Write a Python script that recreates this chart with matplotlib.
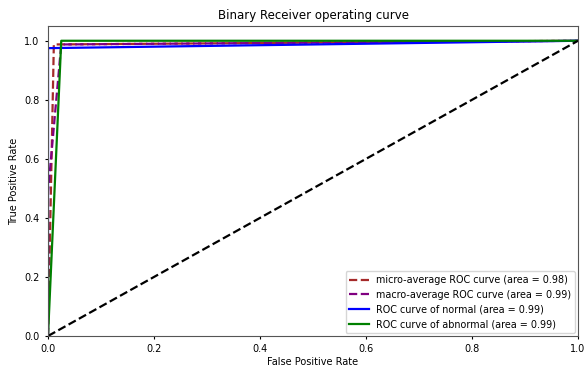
import matplotlib
matplotlib.use("Agg")
import matplotlib.pyplot as plt

micro_fpr = [0.0, 0.011, 1.0]
micro_tpr = [0.0, 0.9875, 1.0]
macro_fpr = [0.0, 0.0, 0.025, 1.0]
macro_tpr = [0.0, 0.4875, 0.9875, 1.0]
normal_fpr = [0.0, 0.0, 1.0]
normal_tpr = [0.0, 0.975, 1.0]
abnormal_fpr = [0.0, 0.025, 1.0]
abnormal_tpr = [0.0, 1.0, 1.0]
labels = ["micro-average ROC curve (area = 0.98)",
          "macro-average ROC curve (area = 0.99)",
          "ROC curve of normal (area = 0.99)",
          "ROC curve of abnormal (area = 0.99)"]

fig = plt.figure(figsize=(5.84, 3.69), dpi=100)
ax = fig.add_axes([48/584, 33/369, 530/584, 310/369])
ax.plot(micro_fpr, micro_tpr, color='brown', linestyle='--', lw=1.6, label=labels[0])
ax.plot(macro_fpr, macro_tpr, color='purple', linestyle='--', lw=1.6, label=labels[1])
ax.plot(normal_fpr, normal_tpr, color='blue', lw=1.6, label=labels[2])
ax.plot(abnormal_fpr, abnormal_tpr, color='green', lw=1.6, label=labels[3])
ax.plot([0, 1], [0, 1], 'k--', lw=1.6)
ax.set_xlim(0.0, 1.0)
ax.set_ylim(0.0, 1.05)
ax.tick_params(labelsize=7, length=2.5)
ax.set_xlabel("False Positive Rate", fontsize=7, labelpad=2)
ax.set_ylabel("True Positive Rate", fontsize=7, labelpad=4)
ax.set_title("Binary Receiver operating curve", fontsize=8.5, pad=5)
ax.legend(loc="lower right", fontsize=6.9, borderaxespad=0.3)
for s in ax.spines.values():
    s.set_color('#555555')
fig.savefig("out.png", dpi=100)
